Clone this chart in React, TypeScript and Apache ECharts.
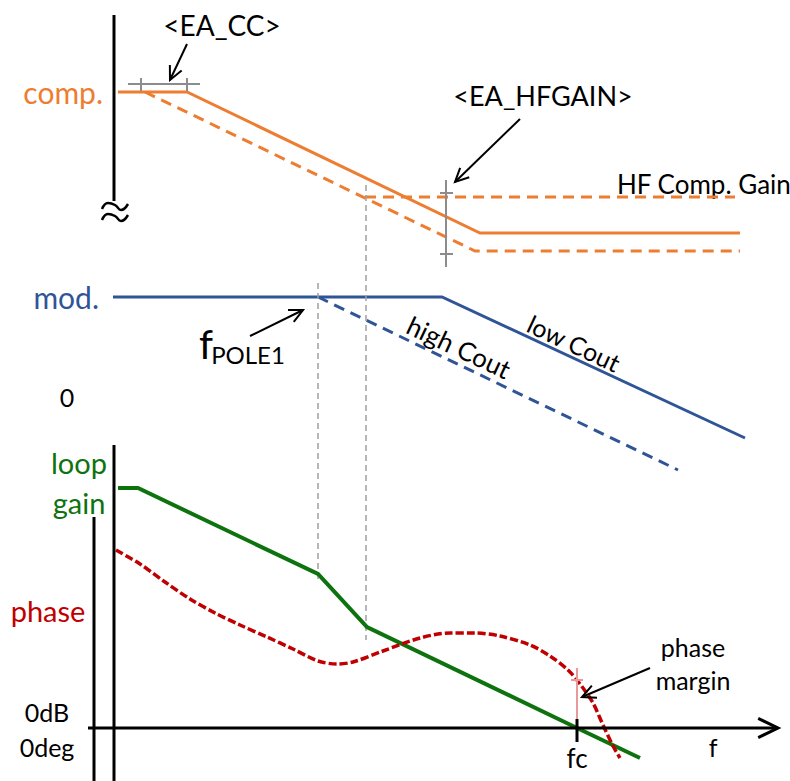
import React, { useEffect, useRef } from "react";
import * as echarts from "echarts";

// Diagram coordinates (x: log-frequency position, y: magnitude position, downward)
const compGain = [[118, 92], [187, 92], [480, 233], [740, 233]];
const compGainHighCout = [[145, 92], [475, 251], [740, 251]];
const hfCompGain = [[365, 197], [735, 197]];
const modLowCout = [[113, 297], [442, 297], [745, 438]];
const modHighCout = [[318, 297], [678, 470]];
const loopGain = [[118, 488], [138, 488], [318, 574], [367, 627], [577, 728], [640, 758]];
const phase = [
  [116, 550], [140, 564], [165, 582], [190, 599], [215, 613], [240, 625], [267, 637],
  [293, 649], [318, 661], [337, 664], [353, 662], [383, 651], [420, 638], [450, 633],
  [475, 633], [500, 636], [530, 645], [550, 656], [568, 670], [580, 684], [593, 703],
  [603, 725], [613, 746], [620, 758],
];
const poleMarks = [[[318, 283], [318, 583]], [[366, 185], [366, 640]]];
const eaCcBar = [[128, 84], [200, 84]];
const eaCcTicks = [141, 187];
const eaHfBar = [[446, 180], [446, 267]];
const eaHfTicks = [193, 254];
const pmBar = [[577, 668], [577, 728]];
const pmTick = 680;
const fcTick = [[577, 719], [577, 742]];
const axisTop = [[114, 15], [114, 201]];
const axisBottom = [[114, 445], [114, 781]];
const axisBottom2 = [[94, 517], [94, 781]];
const axisX = [[88, 728], [778, 728]];
const squiggle1 = [[102, 209], [108, 203], [115, 205], [121, 210], [128, 204]];
const squiggle2 = [[102, 220], [108, 214], [115, 216], [121, 221], [128, 215]];
const arrows = [
  { from: [187, 44], to: [170, 80] },
  { from: [520, 119], to: [455, 182] },
  { from: [250, 336], to: [303, 310] },
  { from: [650, 668], to: [582, 697] },
];

const ORANGE = "#ED7D31";
const BLUE = "#2F5597";
const GREEN = "#0E730E";
const RED = "#C00000";
const GRAY = "#8C8C8C";
const FONT = "Lato";

function headOf(from: number[], to: number[], len = 14, ang = 0.45) {
  const a = Math.atan2(from[1] - to[1], from[0] - to[0]);
  return [
    [to[0] + len * Math.cos(a + ang), to[1] + len * Math.sin(a + ang)],
    to,
    [to[0] + len * Math.cos(a - ang), to[1] + len * Math.sin(a - ang)],
  ];
}

function ln(data: any[], color: string, width: number, type: any = "solid", extra: any = {}) {
  return {
    type: "line",
    data,
    showSymbol: false,
    symbol: "none",
    silent: true,
    lineStyle: { color, width, type, cap: "butt", join: "miter" },
    ...extra,
  };
}

function txt(text: string, x: number, y: number, fill: string, size: number, align = "center", extra: any = {}) {
  return {
    type: "text",
    x,
    y,
    silent: true,
    style: { text, fill, fontSize: size, fontFamily: FONT, align, verticalAlign: "middle" },
    ...extra,
  };
}

export default function App() {
  const ref = useRef<HTMLDivElement>(null);
  useEffect(() => {
    const chart = echarts.init(ref.current!, null, { renderer: "svg" });
    const series: any[] = [];
    series.push(ln(compGain, ORANGE, 3));
    series.push(ln(compGainHighCout, ORANGE, 3, [11, 7]));
    series.push(ln(hfCompGain, ORANGE, 3, [11, 7]));
    series.push(ln(modLowCout, BLUE, 3));
    series.push(ln(modHighCout, BLUE, 3, [11, 7]));
    poleMarks.forEach((p) => series.push(ln(p, "#A0A0A0", 1.5, [6, 4])));
    series.push(ln(loopGain, GREEN, 4));
    series.push(ln(phase, RED, 3.5, [8, 3], { smooth: 0.3 }));
    // markers
    series.push(ln(eaCcBar, GRAY, 2));
    eaCcTicks.forEach((x) => series.push(ln([[x, 78], [x, 91]], GRAY, 2)));
    series.push(ln(eaHfBar, GRAY, 2));
    eaHfTicks.forEach((y) => series.push(ln([[440, y], [453, y]], GRAY, 2)));
    series.push(ln(pmBar, "#E89A9A", 2));
    series.push(ln([[571, pmTick], [583, pmTick]], "#E89A9A", 2));
    // axes
    series.push(ln(axisTop, "#000", 3));
    series.push(ln(axisBottom, "#000", 3));
    series.push(ln(axisBottom2, "#000", 3));
    series.push(ln(axisX, "#000", 3));
    series.push(ln(headOf(axisX[0], axisX[1], 22, 0.45), "#000", 3));
    series.push(ln(fcTick, "#000", 3));
    series.push(ln(squiggle1, "#000", 2.5, "solid", { smooth: true }));
    series.push(ln(squiggle2, "#000", 2.5, "solid", { smooth: true }));
    arrows.forEach((a) => {
      series.push(ln([a.from, a.to], "#000", 2));
      series.push(ln(headOf(a.from, a.to, 15, 0.45), "#000", 2));
    });

    const slope = -Math.atan(0.47);
    chart.setOption({
      animation: false,
      backgroundColor: "#fff",
      grid: { left: 0, right: 0, top: 0, bottom: 0 },
      xAxis: { type: "value", min: 0, max: 790, show: false },
      yAxis: { type: "value", min: 0, max: 781, inverse: true, show: false },
      series,
      graphic: [
        txt("<EA_CC>", 222, 25, "#000", 28),
        txt("<EA_HFGAIN>", 543, 95, "#000", 27),
        txt("HF Comp. Gain", 617, 184, "#000", 26, "left"),
        txt("comp.", 103, 92, ORANGE, 30, "right"),
        txt("mod.", 99, 297, BLUE, 30, "right"),
        txt("0", 67, 397, "#000", 25),
        txt("loop", 79, 462, GREEN, 29),
        txt("gain", 79, 502, GREEN, 29),
        txt("phase", 48, 610, RED, 29),
        txt("0dB", 47, 712, "#000", 25),
        txt("0deg", 47, 747, "#000", 25),
        txt("fc", 577, 758, "#000", 26),
        txt("f", 713, 747, "#000", 25),
        txt("phase", 693, 647, "#000", 25),
        txt("margin", 693, 680, "#000", 25),
        txt("f", 206, 344, "#000", 40),
        txt("POLE1", 248, 354, "#000", 24),
        txt("high Cout", 459, 347, "#000", 26, "center", { rotation: slope }),
        txt("low Cout", 574, 343, "#000", 25, "center", { rotation: slope }),
      ],
    });
    return () => chart.dispose();
  }, []);
  return (
    <div
      ref={ref}
      style={{ position: "fixed", left: 0, top: 0, width: 790, height: 781, background: "#fff" }}
    />
  );
}
